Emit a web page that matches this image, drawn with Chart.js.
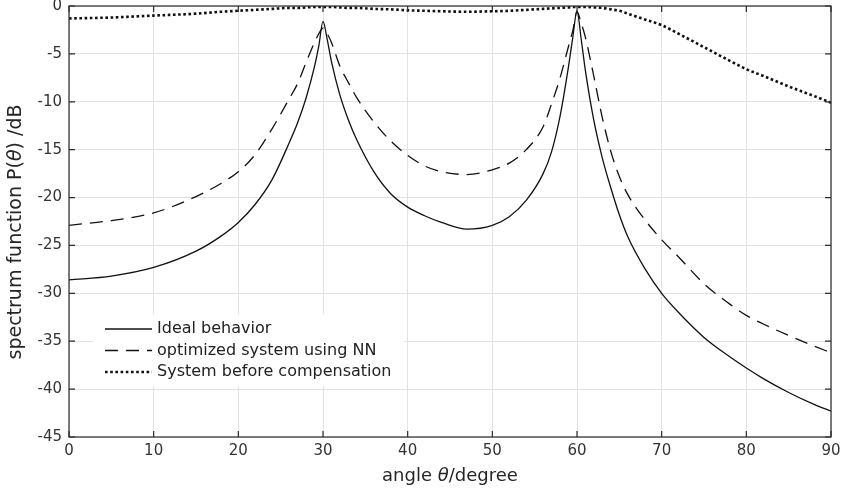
<!DOCTYPE html>
<html>
<head>
<meta charset="utf-8">
<script src="https://cdn.jsdelivr.net/npm/chart.js@4.4.0/dist/chart.umd.min.js"></script>
<style>
  html, body { margin: 0; padding: 0; background: #fff; }
  #wrap { width: 843px; height: 491px; }
</style>
</head>
<body>
<div id="wrap"><canvas id="spectrum" width="843" height="491"></canvas></div>
<script>
// angle samples (degree)
const angles = [0, 5, 10, 15, 18, 20, 22, 24, 26, 27, 28, 29, 29.5, 30, 30.5, 31, 32, 33, 34, 36,
    38, 40, 42, 44, 47, 50, 52, 54, 56, 57, 58, 59, 59.5, 60, 60.5, 61, 62, 63, 64, 65,
    66, 68, 70, 72, 75, 78, 80, 82, 85, 88, 90];

// Ideal behavior (dB)
const idealDb = [-28.6, -28.2, -27.3, -25.6, -24.0, -22.6, -20.7, -18.1, -14.3, -12.2, -9.6, -6.3, -4.2, -1.6, -3.5, -5.8, -9.3, -11.9, -14.0, -17.3,
    -19.6, -21.0, -21.9, -22.6, -23.3, -22.9, -22.0, -20.3, -17.5, -15.2, -11.5, -6.3, -3.3, -0.5, -3.5, -6.8, -12.0, -15.9, -19.0, -21.8,
    -24.1, -27.4, -30.0, -32.0, -34.6, -36.6, -37.8, -38.9, -40.35, -41.6, -42.3];

// optimized system using NN (dB)
const nnDb = [-22.9, -22.4, -21.6, -19.9, -18.5, -17.3, -15.5, -12.8, -9.7, -8.1, -5.9, -3.8, -2.9, -2.3, -2.9, -3.8, -6.3, -8.0, -9.6, -12.1,
    -14.1, -15.6, -16.7, -17.3, -17.6, -17.1, -16.4, -15.0, -12.6, -10.2, -7.5, -4.2, -2.6, -0.6, -1.8, -3.3, -7.4, -11.7, -15.2, -17.8,
    -19.7, -22.3, -24.4, -26.2, -29.0, -31.1, -32.3, -33.2, -34.4, -35.5, -36.2];

// System before compensation (dB)
const uncompDb = [-1.3, -1.2, -1.0, -0.8, -0.6, -0.5, -0.4, -0.3, -0.2, -0.2, -0.15, -0.1, -0.1, -0.1, -0.1, -0.1, -0.15, -0.2, -0.2, -0.3,
    -0.35, -0.45, -0.5, -0.55, -0.6, -0.55, -0.5, -0.4, -0.3, -0.25, -0.2, -0.15, -0.1, -0.1, -0.1, -0.1, -0.15, -0.2, -0.35, -0.5,
    -0.8, -1.4, -2.0, -2.9, -4.3, -5.7, -6.6, -7.3, -8.4, -9.4, -10.1];

const seriesNames = ['Ideal behavior', 'optimized system using NN', 'System before compensation'];
const xTicks = [0, 10, 20, 30, 40, 50, 60, 70, 80, 90];
const yTicks = [0, -5, -10, -15, -20, -25, -30, -35, -40, -45];

const FONT = '"DejaVu Sans", sans-serif';
const INK = '#333';

function pts(vals) {
    return angles.map((a, i) => ({x: a, y: vals[i]}));
}

// draws box, inward ticks, axis titles and the legend (matlab look)
const matlabAxes = {
    id: 'matlabAxes',
    afterDatasetsDraw(chart) {
        const ctx = chart.ctx;
        const area = chart.chartArea;
        const xs = chart.scales.x, ys = chart.scales.y;
        ctx.save();

        // legend
        const lx = area.left + 24, ly = area.bottom - 123;
        ctx.fillStyle = '#fff';
        ctx.fillRect(lx, ly, 311, 72);
        chart.data.datasets.forEach((ds, i) => {
            const y = ly + 15 + i * 21.5;
            ctx.beginPath();
            ctx.strokeStyle = ds.borderColor;
            ctx.lineWidth = ds.borderWidth;
            ctx.setLineDash(ds.borderDash || []);
            ctx.moveTo(lx + 12, y);
            ctx.lineTo(lx + 59, y);
            ctx.stroke();
            ctx.setLineDash([]);
            ctx.fillStyle = '#222';
            ctx.font = '16px ' + FONT;
            ctx.textBaseline = 'middle';
            ctx.textAlign = 'left';
            ctx.fillText(ds.label, lx + 64, y);
        });

        // box
        ctx.strokeStyle = '#2b2b2b';
        ctx.lineWidth = 1.2;
        ctx.strokeRect(area.left, area.top, area.right - area.left, area.bottom - area.top);

        // inward ticks
        const tl = 6;
        ctx.beginPath();
        xTicks.forEach(v => {
            const px = xs.getPixelForValue(v);
            ctx.moveTo(px, area.bottom); ctx.lineTo(px, area.bottom - tl);
            ctx.moveTo(px, area.top); ctx.lineTo(px, area.top + tl);
        });
        yTicks.forEach(v => {
            const py = ys.getPixelForValue(v);
            ctx.moveTo(area.left, py); ctx.lineTo(area.left + tl, py);
            ctx.moveTo(area.right, py); ctx.lineTo(area.right - tl, py);
        });
        ctx.stroke();

        // axis titles with italic theta
        ctx.fillStyle = '#262626';
        ctx.textBaseline = 'alphabetic';
        ctx.textAlign = 'left';
        const drawParts = (parts, cx, cy, size) => {
            let w = 0;
            parts.forEach(p => { ctx.font = (p[1] ? 'italic ' : '') + size + 'px ' + FONT; w += ctx.measureText(p[0]).width; });
            let x = cx - w / 2;
            parts.forEach(p => {
                ctx.font = (p[1] ? 'italic ' : '') + size + 'px ' + FONT;
                ctx.fillText(p[0], x, cy);
                x += ctx.measureText(p[0]).width;
            });
        };
        drawParts([['angle ', false], ['θ', true], ['/degree', false]], (area.left + area.right) / 2, 481, 18);
        ctx.save();
        ctx.translate(21, 232);
        ctx.rotate(-Math.PI / 2);
        drawParts([['spectrum function P(', false], ['θ', true], [') /dB', false]], 0, 0, 19);
        ctx.restore();

        ctx.restore();
    }
};

new Chart(document.getElementById('spectrum'), {
    type: 'line',
    data: {
        datasets: [
            {label: seriesNames[0], data: pts(idealDb), borderColor: '#111', borderWidth: 1.3, borderDash: []},
            {label: seriesNames[1], data: pts(nnDb), borderColor: '#111', borderWidth: 1.3, borderDash: [13, 8]},
            {label: seriesNames[2], data: pts(uncompDb), borderColor: '#111', borderWidth: 2.6, borderDash: [2.6, 2.6]}
        ]
    },
    options: {
        responsive: false,
        animation: false,
        layout: {padding: {top: 6, right: 12, left: 0, bottom: 0}},
        elements: {
            point: {radius: 0},
            line: {cubicInterpolationMode: 'monotone', fill: false}
        },
        plugins: {
            legend: {display: false},
            tooltip: {enabled: false}
        },
        scales: {
            x: {
                type: 'linear',
                min: 0,
                max: 90,
                afterBuildTicks: s => { s.ticks = xTicks.map(v => ({value: v})); },
                afterFit: s => { s.height = 54; s.paddingLeft = 0; s.paddingRight = 0; },
                ticks: {color: INK, font: {family: FONT, size: 15}, padding: 5, maxRotation: 0},
                grid: {color: '#e2e2e2', drawTicks: false},
                border: {display: false}
            },
            y: {
                min: -45,
                max: 0,
                afterBuildTicks: s => { s.ticks = yTicks.map(v => ({value: v})); },
                afterFit: s => { s.width = 69; s.paddingTop = 0; s.paddingBottom = 0; },
                ticks: {color: INK, font: {family: FONT, size: 15}, padding: 7},
                grid: {color: '#e2e2e2', drawTicks: false},
                border: {display: false}
            }
        }
    },
    plugins: [matlabAxes]
});
</script>
</body>
</html>
